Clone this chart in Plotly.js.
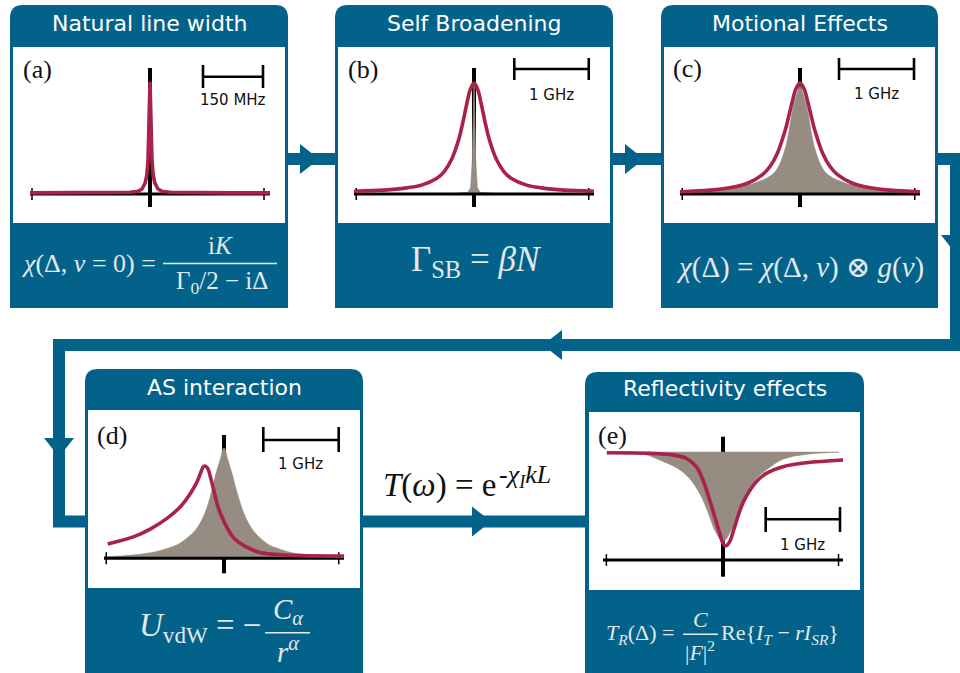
<!DOCTYPE html>
<html><head><meta charset="utf-8">
<script src="https://cdn.plot.ly/plotly-3.0.1.min.js"></script>
<style>html,body{margin:0;padding:0;background:#fff;overflow:hidden}</style>
</head><body><div id="chart" style="width:960px;height:673px"></div>
<script>
// ---------------- data (x: detuning in GHz, y: normalised signal) ----------------
// (a) natural line width
const aX   = [-0.3, -0.2, -0.1, -0.05, -0.03, -0.02, -0.012, -0.008, -0.005, -0.003, -0.0015, 0, 0.0015, 0.003, 0.005, 0.008, 0.012, 0.02, 0.03, 0.05, 0.1, 0.2, 0.3];
const aRed = [0.01, 0.01, 0.012, 0.016, 0.025, 0.045, 0.1, 0.17, 0.3, 0.52, 0.8, 1.01, 0.8, 0.52, 0.3, 0.17, 0.1, 0.045, 0.025, 0.016, 0.012, 0.01, 0.01];
// (b) self broadening
const bX   = [-1.6, -1.2, -0.9, -0.7, -0.5, -0.4, -0.3, -0.2, -0.15, -0.1, -0.05, 0, 0.05, 0.1, 0.15, 0.2, 0.3, 0.4, 0.5, 0.7, 0.9, 1.2, 1.6];
const bRed = [0.025, 0.035, 0.055, 0.08, 0.14, 0.2, 0.31, 0.5, 0.64, 0.8, 0.94, 1, 0.94, 0.8, 0.64, 0.5, 0.31, 0.2, 0.14, 0.08, 0.055, 0.035, 0.025];
const bGrayX = [-1.6, -0.3, -0.08, -0.044, -0.022, -0.01, 0, 0.01, 0.022, 0.044, 0.08, 0.3, 1.6];
const bGray  = [0, 0.004, 0.015, 0.057, 0.3, 0.7, 1, 0.7, 0.3, 0.057, 0.015, 0.004, 0];
// (c) motional effects
const cX    = [-1.6, -1.2, -0.9, -0.7, -0.5, -0.4, -0.3, -0.2, -0.15, -0.1, -0.05, 0, 0.05, 0.1, 0.15, 0.2, 0.3, 0.4, 0.5, 0.7, 0.9, 1.2, 1.6];
const cRed  = [0.02, 0.035, 0.061, 0.097, 0.175, 0.248, 0.37, 0.569, 0.7, 0.84, 0.955, 1, 0.955, 0.84, 0.7, 0.569, 0.37, 0.248, 0.175, 0.097, 0.061, 0.035, 0.02];
const cGray = [0.012, 0.028, 0.05, 0.078, 0.125, 0.16, 0.23, 0.4, 0.55, 0.75, 0.88, 0.97, 0.88, 0.75, 0.55, 0.4, 0.23, 0.16, 0.125, 0.078, 0.05, 0.028, 0.012];
// (d) atom-surface interaction
const dGrayX = [-1.6, -1.2, -0.9, -0.75, -0.6, -0.4, -0.3, -0.23, -0.15, -0.11, -0.05, 0, 0.05, 0.11, 0.15, 0.24, 0.3, 0.4, 0.6, 0.71, 0.9, 1.2, 1.6];
const dGray  = [0.012, 0.03, 0.06, 0.09, 0.13, 0.24, 0.34, 0.45, 0.64, 0.757, 0.89, 1.0, 0.89, 0.757, 0.65, 0.45, 0.35, 0.24, 0.12, 0.09, 0.05, 0.025, 0.01];
const dRedX  = [-1.55, -1.2, -0.978, -0.756, -0.578, -0.444, -0.356, -0.311, -0.267, -0.222, -0.178, -0.133, -0.089, -0.022, 0.044, 0.133, 0.267, 0.444, 0.667, 1.02, 1.6];
const dRed   = [0.13, 0.196, 0.266, 0.363, 0.469, 0.59, 0.696, 0.773, 0.833, 0.818, 0.727, 0.605, 0.485, 0.364, 0.273, 0.182, 0.115, 0.06, 0.036, 0.024, 0.02];
// (e) reflectivity effects
const eGrayX = [-1.55, -1.1, -0.8, -0.6, -0.45, -0.3, -0.2, -0.1, 0, 0.1, 0.2, 0.3, 0.45, 0.6, 0.8, 1.1, 1.55];
const eGray  = [1.0, 0.985, 0.91, 0.843, 0.756, 0.6, 0.44, 0.26, 0.17, 0.26, 0.44, 0.6, 0.756, 0.843, 0.93, 0.975, 0.995];
const eContinuum = 1;
const eRedX  = [-1.55, -0.978, -0.667, -0.489, -0.356, -0.267, -0.178, -0.111, -0.044, 0, 0.036, 0.089, 0.156, 0.244, 0.333, 0.444, 0.578, 0.8, 1.111, 1.6];
const eRed   = [0.99, 0.985, 0.97, 0.939, 0.862, 0.739, 0.554, 0.4, 0.246, 0.154, 0.129, 0.169, 0.308, 0.492, 0.616, 0.723, 0.8, 0.862, 0.898, 0.923];

// ---------------- styling / layout ----------------
const W = 960, H = 673;
const px = x => x / W, py = y => 1 - y / H;
const BLUE = '#03628a', RED = '#a8224a', GRAY = '#968c82', INK = '#e2e9ed';
const SANS = 'DejaVu Sans, Verdana, sans-serif';
const SERIF = 'Liberation Serif, DejaVu Serif, serif';

const P = [
  {ax:'',  title:'Natural line width',   label:'(a)', box:[10,5,288,308],   white:[13,47,285,223],  titleY:24,    labelXY:[21,69.6],    xdom:[30,270],  xr:[-0.3,0.3], ydom:[50,222],  base:194,   unit:111,   vline:[68,207],      ticks:[-0.295,0.285], bar:{x0:0.1325,x1:0.2825,y:76.7,c0:65,c1:88,text:'150 MHz',ty:100.2},
   gray:null, red:[aX,aRed], shape:'linear'},
  {ax:'2', title:'Self Broadening',      label:'(b)', box:[335,5,613,308],  white:[338,47,610,223], titleY:24,    labelXY:[346,69.6],   xdom:[354,594], xr:[-1.6,1.6], ydom:[50,222],  base:194,   unit:111,   vline:[68,207],      ticks:[-1.57,1.53],   bar:{x0:0.537,x1:1.53,y:69,c0:58,c1:80,text:'1 GHz',ty:94.7},
   gray:[bGrayX,bGray], grayShape:'linear', red:[bX,bRed], shape:'spline'},
  {ax:'3', title:'Motional Effects',     label:'(c)', box:[661,5,938,308],  white:[664,47,935,223], titleY:24,    labelXY:[671,68.7],   xdom:[680,920], xr:[-1.6,1.6], ydom:[50,222],  base:194,   unit:111,   vline:[68,207],      ticks:[-1.57,1.53],   bar:{x0:0.52,x1:1.52,y:69,c0:58,c1:80,text:'1 GHz',ty:94.2},
   gray:[cX,cGray], grayShape:'spline', red:[cX,cRed], shape:'spline'},
  {ax:'4', title:'AS interaction',       label:'(d)', box:[85,369,363,690], white:[88,410,360,588], titleY:387.5, labelXY:[94.5,435.2], xdom:[104,344], xr:[-1.6,1.6], ydom:[413,586], base:558.3, unit:110.6, vline:[435,573.3],   ticks:[-1.57,1.53],   bar:{x0:0.524,x1:1.529,y:440,c0:427,c1:452,text:'1 GHz',ty:464.3},
   gray:[dGrayX,dGray], grayShape:'spline', red:[dRedX,dRed], shape:'spline'},
  {ax:'5', title:'Reflectivity effects', label:'(e)', box:[585,372,864,690], white:[589,412,860,590], titleY:389, labelXY:[596,435.4],   xdom:[603,843], xr:[-1.6,1.6], ydom:[415,588], base:560,   unit:108.3, vline:[436.7,576.7], ticks:[-1.555,1.54], bar:{x0:0.569,x1:1.56,y:519.3,c0:507,c1:532,text:'1 GHz',ty:544.5},
   gray:[eGrayX,eGray], grayShape:'spline', dip:true, red:[eRedX,eRed], shape:'spline'},
];

const shapes = [], annotations = [], traces = [];
const layout = {width:W, height:H, margin:{l:0,r:0,t:0,b:0}, paper_bgcolor:'#ffffff', plot_bgcolor:'rgba(0,0,0,0)', showlegend:false};

function rect(l,t,r,b,color,layer){ shapes.push({type:'rect', xref:'paper', yref:'paper', x0:px(l), x1:px(r), y0:py(b), y1:py(t), fillcolor:color, line:{width:0}, layer:layer||'below'}); }
function roundTopBox(l,t,r,b,rad){
  const d = `M${px(l)},${py(b)} L${px(l)},${py(t+rad)} Q${px(l)},${py(t)} ${px(l+rad)},${py(t)} L${px(r-rad)},${py(t)} Q${px(r)},${py(t)} ${px(r)},${py(t+rad)} L${px(r)},${py(b)} Z`;
  shapes.push({type:'path', xref:'paper', yref:'paper', path:d, fillcolor:BLUE, line:{width:0}, layer:'below'});
}
function poly(pts, width){
  const d = pts.map((p,i)=>(i?'L':'M')+px(p[0])+','+py(p[1])).join(' ');
  shapes.push({type:'path', xref:'paper', yref:'paper', path:d, fillcolor:'rgba(0,0,0,0)', line:{color:BLUE, width:width}, layer:'below'});
}
function head(tx, ty, dir){
  const L = 19, hw = 15; let pts;
  if (dir==='r') pts = [[tx,ty],[tx-L,ty-hw],[tx-L,ty+hw]];
  if (dir==='l') pts = [[tx,ty],[tx+L,ty-hw],[tx+L,ty+hw]];
  if (dir==='d') pts = [[tx,ty],[tx-hw,ty-L],[tx+hw,ty-L]];
  const d = pts.map((p,i)=>(i?'L':'M')+px(p[0])+','+py(p[1])).join(' ')+' Z';
  shapes.push({type:'path', xref:'paper', yref:'paper', path:d, fillcolor:BLUE, line:{width:0}, layer:'below'});
}
function text(x,y,t,size,color,family,xanchor){
  annotations.push({xref:'paper', yref:'paper', x:px(x), y:py(y), text:t, showarrow:false, xanchor:xanchor||'center', yanchor:'middle',
    font:{size:size, color:color, family:family}});
}
function fracLine(x0,x1,y){ shapes.push({type:'line', xref:'paper', yref:'paper', x0:px(x0), x1:px(x1), y0:py(y), y1:py(y), line:{color:INK, width:1.4}, layer:'above'}); }

// connectors (drawn first, under boxes)
const T = 12;
poly([[280,159],[340,159]], T);
poly([[605,159],[665,159]], T);
poly([[930,159],[956,159],[956,345],[59,345],[59,521.5],[90,521.5]], T);
poly([[355,521.5],[590,521.5]], T);
head(319,159,'r'); head(644,159,'r'); head(956,254,'d'); head(543,345,'l'); head(59,457,'d'); head(491,521.5,'r');

// panels
P.forEach(p => {
  roundTopBox(p.box[0], p.box[1], p.box[2], p.box[3], 13);
  rect(p.white[0], p.white[1], p.white[2], p.white[3], '#ffffff');
  text((p.box[0]+p.box[2])/2, p.titleY, p.title, 22, '#ffffff', SANS);
  text(p.labelXY[0], p.labelXY[1], p.label, 26, '#111111', SERIF, 'left');

  const xa = 'x'+p.ax, ya = 'y'+p.ax;
  const yv = v => (p.base - v) / p.unit;
  layout['xaxis'+p.ax] = {domain:[px(p.xdom[0]), px(p.xdom[1])], range:p.xr, visible:false, fixedrange:true, anchor:ya};
  layout['yaxis'+p.ax] = {domain:[py(p.ydom[1]), py(p.ydom[0])], range:[yv(p.ydom[1]), yv(p.ydom[0])], visible:false, fixedrange:true, anchor:xa};
  const common = {xaxis:xa, yaxis:ya, mode:'lines', hoverinfo:'skip', showlegend:false};

  // vertical centre axis
  traces.push(Object.assign({x:[0,0], y:[yv(p.vline[0]), yv(p.vline[1])], line:{color:'#000', width:4}}, common));
  // grey reference profile
  if (p.gray) {
    const gs = p.grayShape || 'linear';
    if (p.dip) {
      traces.push(Object.assign({x:p.gray[0], y:p.gray[0].map(()=>eContinuum), line:{color:GRAY, width:0}}, common));
      traces.push(Object.assign({x:p.gray[0], y:p.gray[1], fill:'tonexty', fillcolor:GRAY, line:{color:GRAY, width:0.5, shape:gs, smoothing:1}}, common));
    } else {
      traces.push(Object.assign({x:p.gray[0], y:p.gray[1], fill:'tozeroy', fillcolor:GRAY, line:{color:GRAY, width:0.8, shape:gs, smoothing:1}}, common));
    }
  }
  // horizontal axis with end ticks
  traces.push(Object.assign({x:p.xr, y:[0,0], line:{color:'#000', width:3}}, common));
  const th = 6 / p.unit;
  traces.push(Object.assign({x:[p.ticks[0],p.ticks[0],null,p.ticks[1],p.ticks[1]], y:[-th,th,null,-th,th], line:{color:'#000', width:1.5}}, common));
  // red profile
  traces.push(Object.assign({x:p.red[0], y:p.red[1], line:{color:RED, width:3.6, shape:p.shape, smoothing:1}}, common));
  // scale bar
  const b = p.bar;
  traces.push(Object.assign({x:[b.x0,b.x0,null,b.x0,b.x1,null,b.x1,b.x1], y:[yv(b.c0),yv(b.c1),null,yv(b.y),yv(b.y),null,yv(b.c0),yv(b.c1)], line:{color:'#000', width:2.6}}, common));
  annotations.push({xref:xa, yref:'paper', x:(b.x0+b.x1)/2, y:py(b.ty), text:b.text, showarrow:false, xanchor:'center', yanchor:'middle', font:{size:15, color:'#111', family:SANS}});
});

// formulas
text(158, 264, '<i>χ</i>(Δ, <i>v</i> = 0) =', 26, INK, SERIF, 'right');
text(220, 245, 'i<i>K</i>', 25, INK, SERIF);
text(222, 282, 'Γ<sub>0</sub>/2 − iΔ', 25, INK, SERIF);
fracLine(163, 277, 263.5);

text(476, 261.7, 'Γ<sub>SB</sub> = <i>β</i><i>N</i>', 35, INK, SERIF);

text(800, 267.5, '<i>χ</i>(Δ) = <i>χ</i>(Δ, <i>v</i>) ⊗ <i>g</i>(<i>v</i>)', 29, INK, SERIF);

text(263, 627.5, '<i>U</i><sub>vdW</sub> = −', 33, INK, SERIF, 'right');
text(288, 611, '<i>C</i><sub><i>α</i></sub>', 29, INK, SERIF);
text(288, 650, '<i>r</i><sup><i>α</i></sup>', 29, INK, SERIF);
fracLine(265, 310, 632.7);

text(498, 485.5, '<i>T</i>(<i>ω</i>) = e', 33, '#111111', SERIF, 'right');
text(497, 476, '-<i>χ</i><sub><i>I</i></sub><i>kL</i>', 26, '#111111', SERIF, 'left');

text(676, 634, '<i>T</i><sub><i>R</i></sub>(Δ) =', 22, INK, SERIF, 'right');
text(700, 619, '<i>C</i>', 22, INK, SERIF);
text(700, 651, '|<i>F</i>|<sup>2</sup>', 22, INK, SERIF);
fracLine(683, 718, 634.3);
text(719, 634, 'Re{<i>I</i><sub><i>T</i></sub> − <i>rI</i><sub><i>SR</i></sub>}', 22, INK, SERIF, 'left');

layout.shapes = shapes;
layout.annotations = annotations;
Plotly.newPlot('chart', traces, layout, {staticPlot:true, displayModeBar:false});
</script>
</body></html>
